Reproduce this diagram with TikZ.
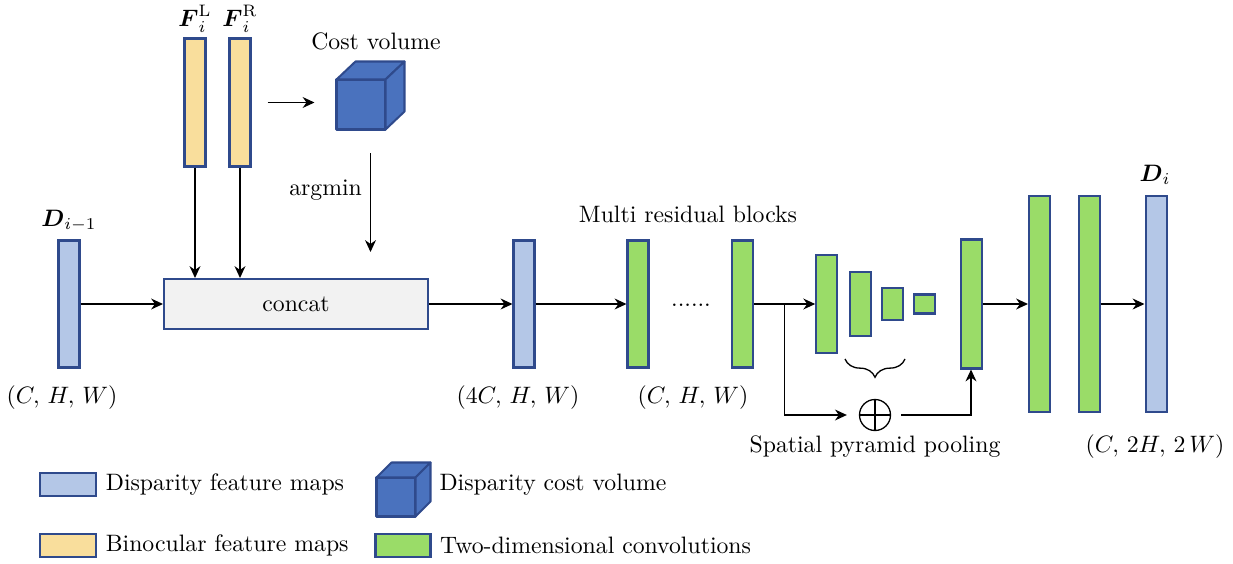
\documentclass[tikz,border=0pt]{standalone}
\usepackage{amsmath}
\usetikzlibrary{arrows.meta, calc, decorations.pathreplacing}

\newcommand{\pxu}{0.0148cm}

\definecolor{dmapfill}{HTML}{B4C7E7}
\definecolor{binofill}{HTML}{F9DE9C}
\definecolor{convfill}{HTML}{9ADC68}
\definecolor{cubefill}{HTML}{4A72BE}
\definecolor{edge}{HTML}{2F4A8C}
\definecolor{concatfill}{HTML}{F2F2F2}

\begin{document}
\begin{tikzpicture}[
    x = \pxu, y = -\pxu,
    line width = 0.55pt,
    > = {Stealth[length = 5pt, width = 4.6pt]},
    layer/.style = {draw = edge,
      line width = 0.85pt,
      inner sep = 0pt,
      minimum width = 21*\pxu},
    dmap/.style = {layer, fill = dmapfill},
    bino/.style = {layer, fill = binofill},
    conv/.style = {layer, fill = convfill},
    cube/.style = {draw = edge, fill = cubefill,
      line width = 0.85pt, line join = round,
      inner sep = 0pt, outer sep = 0pt},
    tag/.style = {inner sep = 1pt},
    oplus/.style = {circle, draw,
      inner sep = 0pt,
      minimum size = 31*\pxu,
      path picture = {\draw (path picture bounding box.north) --
        (path picture bounding box.south)
        (path picture bounding box.west) --
        (path picture bounding box.east);}},
    ]

    \useasboundingbox (0, 0) rectangle (1233, 563);

    % inputs
    \node at (69, 304)
    [dmap, minimum height = 127*\pxu, name = D_prev] {};
    \node at (195, 102.5)
    [bino, minimum height = 128*\pxu, name = F_L] {};
    \node at (240, 102.5)
    [bino, minimum height = 128*\pxu, name = F_R] {};

    \node at (69, 221) [tag, name = D_prev_label] {$\boldsymbol{D}_{i-1}$};
    \node at (195, 19) [tag, name = F_L_label] {$\boldsymbol{F}_i^{\mathrm{L}}$};
    \node at (240, 19) [tag, name = F_R_label] {$\boldsymbol{F}_i^{\mathrm{R}}$};

    % cost volume
    \node at (361, 104.5)
    [cube, minimum width = 49*\pxu, minimum height = 50*\pxu, name = cost] {};
    \draw [cube] (cost.north west) -- ++(19, -18) -- ++(49, 0)
    -- (cost.north east) -- cycle;
    \draw [cube] (cost.north east) -- ++(19, -18) -- ++(0, 50)
    -- (cost.south east) -- cycle;
    \node at (376, 41) [name = cost_label] {Cost volume};

    \node at (296, 304)
    [draw = edge, fill = concatfill, line width = 0.85pt,
    minimum width = 264*\pxu, minimum height = 50*\pxu, name = concat] {concat};

    \draw [->, shorten < = 16*\pxu, shorten > = 22*\pxu]
    (F_R.east) to (F_R.east -| cost.west);

    \coordinate (arg_top) at (370.5, 153);
    \coordinate (arg_end) at (370.5, 252);
    \draw [->] (arg_top) to node [left, pos = 0.38] {argmin} (arg_end);

    \draw [->] (F_L) to (F_L |- concat.north);
    \draw [->] (F_R) to (F_R |- concat.north);
    \draw [->] (D_prev) to (concat);

    % residual blocks
    \node at (524, 304)
    [dmap, minimum height = 127*\pxu, name = D_cat] {};
    \node at (638, 304)
    [conv, minimum height = 127*\pxu, name = res_first] {};
    \node at (742.5, 304)
    [conv, minimum height = 127*\pxu, name = res_last] {};
    \node at (691, 306) [anchor = base, name = dots] {......};

    \draw [->] (concat) to (D_cat);
    \draw [->] (D_cat) to (res_first);

    \node at (688, 214) [name = res_label] {Multi residual blocks};
    \node at (62, 398) [name = D_prev_size] {$(C,\,H,\,W)$};
    \node at (518, 398) [name = D_cat_size] {$(4C,\,H,\,W)$};
    \node at (693, 398) [name = res_size] {$(C,\,H,\,W)$};

    % spatial pyramid pooling
    \node at (826.7, 304)
    [conv, minimum height = 98*\pxu, name = spp_a] {};
    \node at (860.5, 304)
    [conv, minimum height = 64*\pxu, name = spp_b] {};
    \node at (892.5, 304)
    [conv, minimum height = 32*\pxu, name = spp_c] {};
    \node at (924.7, 304)
    [conv, minimum height = 19*\pxu, name = spp_d] {};
    \node at (971, 304)
    [conv, minimum height = 129*\pxu, name = spp_out] {};
    \node at (875, 415) [oplus, name = sum] {};

    \draw [->] (res_last) to coordinate [pos = 0.5] (branch) (spp_a);
    \draw [->, shorten > = 12*\pxu] (branch) |- (sum);
    \draw [->, shorten < = 10*\pxu] (sum) -| (spp_out);

    \draw [decorate, decoration = {brace, mirror, amplitude = 0.27cm}]
    (845, 359) -- (905, 359);

    \node at (875, 447) [name = spp_label] {Spatial pyramid pooling};

    % upsampling
    \node at (1039.5, 304)
    [conv, minimum height = 216*\pxu, name = up_a] {};
    \node at (1089, 304)
    [conv, minimum height = 216*\pxu, name = up_b] {};
    \node at (1156, 304)
    [dmap, minimum height = 216*\pxu, name = D_out] {};

    \draw [->] (spp_out) to (up_a);
    \draw [->] (up_b) to (D_out);

    \node at (1155, 175) [tag, name = D_out_label] {$\boldsymbol{D}_i$};
    \node at (1155, 447) [name = D_out_size] {$(C,\,2H,\,2\,W)$};

    % legend
    \node at (68.3, 484.3)
    [dmap, minimum width = 56*\pxu, minimum height = 23*\pxu, name = key_dmap] {};
    \node at (key_dmap.east) [anchor = west, name = key_dmap_text]
    {Disparity feature maps};
    \node at (68.3, 545.3)
    [bino, minimum width = 56*\pxu, minimum height = 23*\pxu, name = key_bino] {};
    \node at (key_bino.east) [anchor = west, name = key_bino_text]
    {Binocular feature maps};

    \node at (396, 497)
    [cube, minimum width = 39*\pxu, minimum height = 39*\pxu, name = key_cost] {};
    \draw [cube] (key_cost.north west) -- ++(15, -15) -- ++(39, 0)
    -- (key_cost.north east) -- cycle;
    \draw [cube] (key_cost.north east) -- ++(15, -15) -- ++(0, 39)
    -- (key_cost.south east) -- cycle;
    \node at (431, 485) [anchor = west, name = key_cost_text]
    {Disparity cost volume};
    \node at (403, 545.3)
    [conv, minimum width = 55*\pxu, minimum height = 23*\pxu, name = key_conv] {};
    \node at (key_conv.east) [anchor = west, name = key_conv_text]
    {Two-dimensional convolutions};

  \end{tikzpicture}
\end{document}
